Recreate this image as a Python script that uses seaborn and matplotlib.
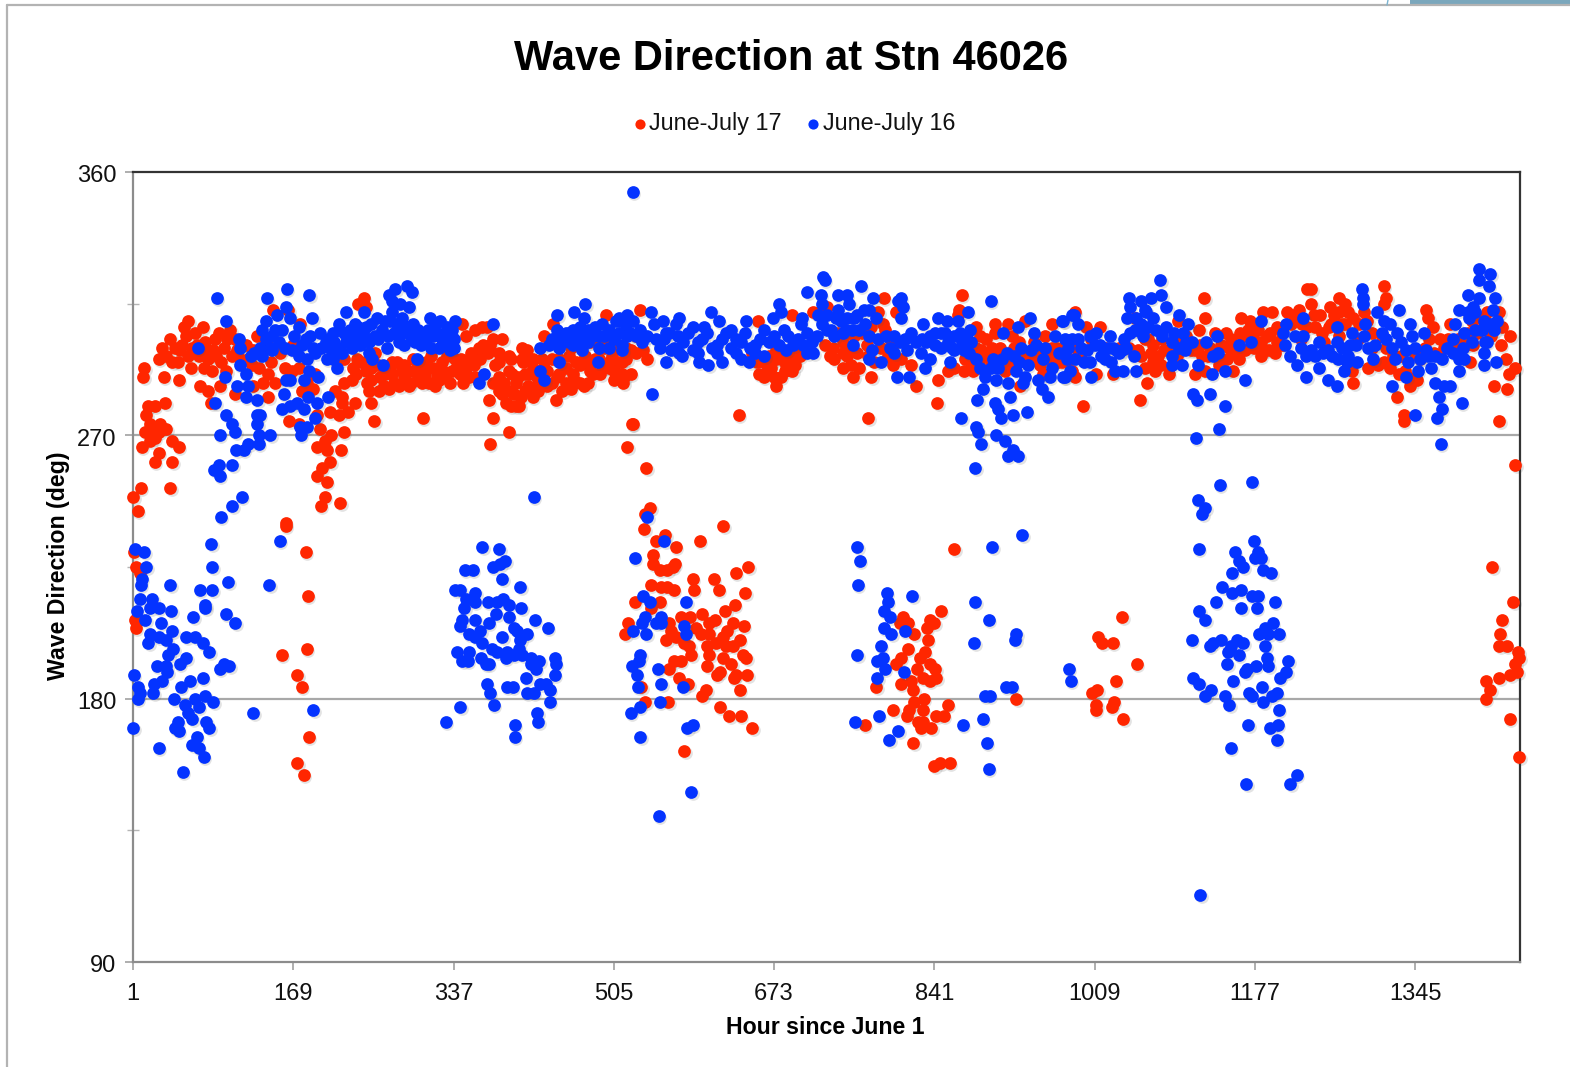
import matplotlib
matplotlib.use("Agg")
import matplotlib.pyplot as plt
import matplotlib.transforms as mtrans
from matplotlib.lines import Line2D
from matplotlib.patches import Rectangle
import pandas as pd
import seaborn as sns

# (hour, degrees) pairs, grouped by stretch of the record
red_start = [
    (1, 249), (6, 244), (9, 252), (40, 252), (24, 261), (42, 261), (10, 266), (28, 264), (49, 266), (42, 268),
    (14, 271), (20, 271), (28, 271), (36, 272), (19, 268), (29, 274), (15, 277), (17, 280), (24, 280), (35, 281),
    (19, 274), (24, 269), (12, 290), (13, 293), (33, 290), (2, 230), (4, 225), (8, 223), (3, 207), (4, 204),
    (161, 239), (182, 230), (184, 215), (183, 197), (157, 195), (173, 188), (178, 184), (185, 167), (173, 158), (180, 154),
]
red_band_1 = [
    (31, 300), (36, 297), (45, 300), (59, 309), (54, 307), (66, 305), (57, 304), (42, 295), (49, 289), (59, 297),
    (77, 302), (75, 293), (71, 287), (80, 285), (83, 281), (92, 287), (91, 305), (103, 306), (84, 292), (96, 300),
    (85, 299), (70, 297), (105, 297), (115, 301), (127, 299), (131, 304), (143, 291), (143, 283), (133, 293), (127, 287),
    (108, 284), (122, 296), (148, 313), (164, 313), (176, 308), (169, 301), (160, 293), (168, 292), (183, 288), (190, 286),
    (178, 285), (192, 291), (175, 293), (165, 275), (175, 274), (194, 277), (197, 272), (209, 270), (222, 271), (202, 268),
    (194, 266), (204, 265), (219, 265), (208, 261), (199, 259), (194, 256), (204, 254), (202, 249), (198, 246), (218, 247),
    (161, 240), (208, 278), (217, 277), (226, 278), (234, 281), (220, 281), (213, 285), (222, 288), (231, 289), (220, 283),
    (232, 293), (236, 296), (222, 296), (243, 317), (237, 315), (245, 314), (254, 275), (251, 281), (248, 285), (246, 288),
    (259, 285), (269, 286), (250, 293), (265, 291), (280, 287), (290, 287), (283, 292), (273, 295), (297, 292), (304, 288),
    (311, 288), (305, 276), (322, 289), (329, 291), (308, 295), (325, 295), (344, 291), (339, 296), (346, 308), (353, 296),
    (350, 304), (364, 300), (360, 306), (367, 307), (372, 307), (388, 303), (378, 303), (385, 298), (360, 290), (374, 282),
    (378, 276), (395, 271), (375, 267), (409, 300), (414, 299), (397, 296), (409, 296), (420, 296), (378, 288), (388, 284),
    (397, 280), (406, 280), (400, 284), (420, 283), (430, 296), (385, 290), (398, 291), (412, 291), (423, 287), (435, 287),
    (444, 282), (448, 296), (462, 291), (451, 285), (460, 286), (474, 287), (483, 291), (491, 291), (505, 289), (441, 308),
    (432, 304), (497, 311), (518, 296), (479, 295), (500, 295), (516, 290),
]
red_band_1_fill = [
    (50, 299), (63, 300), (75, 298), (88, 297), (100, 303), (110, 299), (240, 295), (255, 298), (270, 293), (285, 290),
    (295, 296), (300, 290), (315, 293), (330, 297), (345, 296), (355, 298), (260, 290), (275, 288), (290, 292), (305, 294),
    (320, 290), (335, 292), (350, 293), (365, 296), (375, 301), (385, 295), (390, 288), (395, 285), (405, 290), (415, 287),
    (425, 290), (435, 292), (445, 290), (455, 293), (465, 295), (470, 288), (480, 292), (490, 296), (500, 293), (510, 290),
    (395, 292), (410, 295), (420, 293), (440, 296), (455, 288), (475, 297), (495, 300), (505, 300), (412, 285), (402, 280),
    (392, 281), (28, 296), (40, 303), (48, 295), (52, 301), (62, 293), (68, 301), (74, 307), (80, 296), (87, 303),
    (93, 295), (99, 292), (108, 303), (113, 296), (119, 301), (126, 294), (135, 298), (140, 302), (146, 295), (155, 298),
    (150, 288), (137, 288), (235, 291), (245, 292), (250, 289), (258, 294), (264, 287), (272, 291), (278, 295), (285, 294),
    (292, 288), (300, 294), (307, 291), (313, 297), (318, 287), (326, 292), (333, 288), (340, 293), (347, 288), (353, 290),
    (358, 294), (368, 301), (373, 298), (380, 294), (385, 285), (395, 297), (403, 288), (408, 283), (416, 291), (426, 285),
    (432, 293), (440, 288), (448, 291), (458, 297), (463, 289), (470, 294), (478, 288), (485, 296), (493, 293), (503, 297),
    (512, 295), (518, 300), (470, 302), (460, 300), (480, 302), (490, 303), (500, 302), (505, 292), (515, 288), (512, 290),
]
red_cluster_2 = [
    (524, 274), (519, 266), (539, 259), (543, 245), (538, 243), (537, 238), (549, 234), (559, 236), (570, 232), (595, 234),
    (620, 239), (546, 229), (546, 226), (553, 224), (561, 224), (569, 226), (567, 225), (646, 225), (633, 223), (588, 221),
    (610, 221), (544, 219), (554, 218), (561, 218), (568, 217), (589, 217), (615, 217), (643, 216), (527, 213), (553, 213),
    (544, 211), (632, 212), (622, 210), (520, 206), (517, 202), (563, 206), (575, 208), (585, 208), (597, 209), (611, 207),
    (605, 206), (630, 206), (641, 205), (565, 203), (570, 201), (560, 200), (579, 199), (591, 204), (596, 202), (605, 202),
    (624, 203), (619, 201), (637, 200), (612, 199), (623, 198), (630, 198), (584, 198), (603, 198), (586, 195), (605, 195),
    (619, 194), (640, 195), (644, 194), (568, 193), (575, 193), (603, 191), (628, 192), (563, 190), (616, 189), (613, 188),
    (633, 188), (645, 188), (631, 187), (573, 187), (583, 185), (534, 184), (637, 183), (602, 183), (598, 181), (538, 179),
    (562, 179), (616, 177), (626, 174), (638, 174), (650, 170), (579, 162),
]
red_cluster_3 = [
    (862, 231), (848, 210), (808, 208), (836, 207), (805, 206), (813, 206), (841, 206), (833, 204), (820, 202), (834, 200),
    (813, 197), (831, 196), (806, 194), (826, 194), (801, 192), (837, 192), (842, 190), (823, 190), (829, 187), (843, 187),
    (836, 186), (817, 186), (806, 185), (780, 184), (819, 183), (820, 179), (830, 180), (855, 178), (798, 176), (815, 176),
    (829, 176), (812, 174), (843, 174), (851, 174), (824, 172), (829, 172), (827, 170), (838, 170), (768, 171), (819, 165),
    (841, 157), (847, 158), (857, 158),
]
red_band_2 = [
    (532, 313), (528, 304), (523, 299), (536, 299), (514, 295), (523, 291), (514, 291), (525, 274), (636, 277), (772, 276),
    (844, 281), (675, 287), (657, 291), (666, 292), (684, 292), (692, 292), (663, 295), (675, 296), (691, 295), (696, 297),
    (656, 309), (692, 311), (714, 312), (729, 314), (726, 301), (736, 296), (754, 294), (745, 298), (747, 305), (757, 304),
    (756, 290), (775, 290), (771, 297), (788, 317), (801, 312), (782, 312), (787, 308), (789, 306), (798, 294), (806, 296),
    (817, 294), (822, 287), (845, 289), (870, 318), (867, 313), (866, 311), (855, 292), (862, 293), (873, 296), (885, 307),
    (889, 304), (890, 299), (883, 296), (901, 300), (905, 308), (918, 308), (905, 305), (931, 287), (927, 297), (946, 296),
    (936, 309), (957, 304), (964, 308), (971, 295), (955, 291), (922, 304), (946, 302), (964, 300), (540, 296), (528, 298),
    (660, 296), (670, 293), (680, 296), (690, 298), (700, 297), (650, 298), (675, 299), (735, 300), (745, 302), (755, 300),
    (745, 293), (760, 298), (765, 305), (775, 307), (785, 300), (795, 303), (870, 300), (880, 295), (885, 300), (895, 303),
    (900, 295), (910, 300), (915, 292), (925, 300), (935, 298), (950, 298), (960, 296), (970, 300), (980, 300), (985, 292),
    (995, 298), (655, 295), (662, 290), (668, 297), (673, 290), (680, 290), (686, 294), (695, 294), (702, 300), (732, 297),
    (740, 305), (750, 297), (762, 293), (770, 301), (778, 295), (792, 297), (797, 300), (872, 292), (882, 292), (888, 294),
    (893, 297), (905, 298), (912, 296), (920, 294), (930, 302), (940, 297), (952, 294), (958, 300), (965, 296), (975, 295),
    (982, 296), (990, 300),
]
red_band_3 = [
    (1015, 307), (988, 312), (1000, 307), (997, 280), (1057, 282), (1124, 317), (1125, 310), (1064, 288), (1062, 293), (1070, 301),
    (1076, 297), (1079, 294), (1087, 291), (1114, 291), (1058, 297), (1051, 310), (1097, 309), (1119, 306), (1114, 299), (1125, 292),
    (1139, 294), (1154, 292), (1147, 305), (1161, 305), (1142, 301), (1163, 310), (1172, 309), (1186, 312), (1195, 312), (1184, 302),
    (1198, 298), (1193, 305), (1167, 299), (1160, 296), (1176, 300), (1188, 299), (1211, 312), (1223, 313), (1236, 320), (1232, 320),
    (1236, 315), (1239, 311), (1226, 308), (1247, 305), (1256, 314), (1265, 317), (1272, 315), (1275, 312), (1265, 312), (1257, 308),
    (1272, 308), (1291, 312), (1286, 308), (1312, 321), (1315, 317), (1312, 315), (1279, 292), (1280, 288), (1296, 293), (1306, 294),
    (1312, 295), (1319, 293), (1326, 283), (1333, 277), (1333, 275), (1328, 291), (1340, 287), (1347, 289), (1334, 292), (1356, 313),
    (1359, 310), (1364, 307), (1371, 303), (1382, 308), (1398, 301), (1406, 301), (1403, 295), (1412, 310), (1420, 312), (1433, 312),
    (1436, 307), (1445, 304), (1440, 296), (1450, 293), (1443, 291), (1428, 287), (1441, 286), (1433, 275), (1450, 260), (1429, 308),
    (988, 290), (1028, 291), (1011, 291), (1005, 303), (1020, 300), (1035, 300), (1045, 300), (1055, 299), (1065, 303), (1070, 295),
    (1082, 299), (1090, 300), (1100, 303), (1110, 299), (1120, 301), (1130, 300), (1142, 296), (1150, 300), (1155, 298), (1165, 304),
    (1175, 303), (1180, 306), (1190, 304), (1200, 302), (1205, 305), (1215, 308), (1225, 303), (1240, 307), (1255, 307), (1265, 304),
    (1285, 303), (1300, 300), (1315, 300), (1330, 297), (1345, 298), (1355, 300), (1365, 298), (1380, 303), (1390, 303), (1400, 305),
    (1410, 305), (1420, 306), (1062, 303), (1068, 298), (1072, 292), (1080, 303), (1095, 297), (1105, 304), (1122, 297), (1128, 297),
    (1135, 305), (1148, 296), (1152, 303), (1158, 300), (1170, 306), (1178, 308), (1183, 297), (1192, 299), (1200, 307), (1206, 301),
    (1218, 311), (1232, 307), (1245, 311), (1250, 302), (1260, 311), (1268, 308), (1280, 310), (1295, 309), (1300, 305), (1310, 304),
    (1322, 297), (1338, 290), (1350, 296), (1360, 303), (1375, 300), (1385, 300), (1393, 300), (1405, 309), (1418, 309), (1425, 304),
    (1435, 301),
]
red_low_late = [
    (1038, 208), (1013, 201), (1017, 199), (1028, 199), (1053, 192), (1031, 186), (1012, 183), (1006, 182), (1011, 178), (1010, 176),
    (1029, 179), (1027, 177), (1039, 173), (927, 180), (1426, 225), (1448, 213), (1436, 207), (1434, 202), (1433, 198), (1441, 198),
    (1453, 196), (1454, 194), (1450, 192), (1452, 189), (1445, 188), (1433, 187), (1419, 186), (1424, 183), (1419, 180), (1444, 173),
    (1454, 160),
]

blue_cluster_1 = [
    (3, 231), (13, 230), (15, 225), (10, 221), (9, 219), (8, 214), (21, 214), (5, 210), (14, 207), (19, 211),
    (28, 211), (41, 210), (40, 219), (71, 217), (84, 217), (84, 225), (83, 233), (101, 220), (77, 212), (77, 211),
    (64, 208), (98, 209), (108, 206), (30, 206), (42, 203), (19, 202), (17, 199), (28, 201), (36, 200), (57, 201),
    (66, 201), (74, 199), (81, 196), (43, 197), (38, 195), (57, 194), (50, 192), (26, 191), (36, 191), (37, 189),
    (31, 186), (23, 185), (22, 182), (2, 188), (6, 184), (8, 182), (6, 180), (96, 192), (92, 190), (102, 191),
    (74, 187), (61, 186), (51, 184), (44, 180), (77, 181), (66, 180), (85, 179), (56, 178), (70, 177), (59, 175),
    (63, 173), (48, 172), (78, 172), (81, 170), (45, 170), (49, 169), (68, 167), (1, 170), (28, 163), (63, 164),
    (70, 163), (75, 160), (53, 155), (127, 175), (190, 176), (144, 219), (155, 234),
]
blue_cluster_2 = [
    (367, 232), (385, 231), (349, 224), (357, 224), (378, 225), (386, 226), (391, 227), (388, 221), (407, 218), (339, 217),
    (344, 217), (360, 216), (350, 214), (359, 213), (373, 213), (383, 213), (389, 214), (395, 212), (408, 211), (348, 211),
    (382, 209), (422, 207), (436, 204), (395, 208), (346, 207), (360, 207), (374, 206), (344, 205), (400, 204), (404, 203),
    (414, 202), (353, 202), (365, 203), (388, 201), (360, 201), (367, 199), (407, 200), (406, 197), (341, 196), (353, 196),
    (377, 197), (383, 196), (393, 196), (392, 194), (400, 195), (409, 195), (418, 194), (427, 193), (443, 194), (444, 192),
    (346, 193), (352, 193), (366, 194), (371, 192), (374, 192), (418, 192), (423, 190), (413, 187), (443, 188), (372, 185),
    (375, 182), (393, 184), (399, 184), (428, 185), (434, 185), (438, 183), (414, 182), (421, 182), (379, 178), (438, 179),
    (344, 177), (329, 172), (425, 175), (426, 172), (401, 171), (401, 167),
]
blue_rise_1 = [
    (89, 317), (98, 309), (69, 300), (97, 290), (87, 281), (113, 294), (112, 303), (119, 291), (110, 287), (122, 287),
    (131, 282), (119, 283), (99, 277), (105, 274), (108, 271), (92, 270), (133, 270), (145, 270), (131, 277), (134, 277),
    (131, 274), (133, 267), (122, 267), (117, 265), (109, 265), (105, 260), (91, 260), (86, 258), (92, 256), (115, 249),
    (105, 246), (93, 242), (421, 249), (141, 317), (162, 320), (186, 318), (161, 314), (152, 311), (166, 310), (175, 307),
    (189, 310), (140, 309), (136, 306), (147, 304), (154, 302), (147, 299), (168, 299), (175, 297), (183, 296), (182, 303),
    (187, 304), (197, 305), (203, 302), (192, 298), (204, 296), (211, 296), (215, 293), (185, 292), (195, 290), (180, 289),
    (166, 289), (161, 289), (159, 284), (184, 283), (205, 283), (194, 281), (173, 281), (157, 279), (166, 280), (180, 279),
    (192, 276), (183, 273), (176, 273), (177, 270), (125, 297), (113, 300), (134, 300), (136, 297),
]
blue_band_1 = [
    (224, 312), (217, 308), (211, 305), (222, 305), (234, 308), (243, 312), (245, 307), (257, 310), (238, 304), (224, 302),
    (231, 300), (239, 301), (255, 304), (267, 300), (248, 298), (252, 296), (263, 294), (269, 318), (276, 320), (288, 321),
    (293, 319), (272, 316), (290, 314), (281, 315), (272, 312), (283, 310), (265, 309), (283, 305), (295, 308), (312, 310),
    (323, 309), (339, 309), (304, 305), (320, 305), (330, 307), (297, 302), (308, 303), (337, 303), (325, 303), (313, 300),
    (337, 300), (299, 296), (378, 308), (369, 291), (364, 288), (428, 300), (437, 301), (448, 304), (446, 311), (463, 312),
    (475, 315), (448, 295), (428, 292), (432, 289), (488, 295), (474, 310), (455, 305), (469, 304), (483, 304), (493, 308),
    (511, 310), (472, 299), (490, 300), (500, 306), (514, 299), (511, 305), (462, 301), (448, 300),
    (128, 298), (140, 303), (145, 300), (150, 306), (157, 306), (160, 300), (170, 304), (178, 301), (190, 300), (198, 300),
    (208, 300), (215, 300), (220, 298), (228, 306), (233, 303), (243, 304), (250, 308), (258, 303), (262, 306), (275, 305),
    (285, 301), (292, 304), (300, 306), (303, 301), (315, 304), (322, 300), (330, 302), (335, 306), (278, 308), (288, 307),
    (270, 309), (440, 303), (452, 302), (458, 302), (465, 302), (470, 307), (478, 302), (485, 307), (495, 304), (505, 303),
    (507, 309), (518, 308), (528, 304), (532, 306), (478, 306), (490, 304), (462, 306), (205, 303), (212, 302), (237, 307),
    (248, 302), (268, 304), (280, 302), (295, 303), (310, 306), (318, 308), (328, 305), (333, 299), (445, 306), (458, 305),
    (475, 303), (500, 300), (522, 305), (535, 302),
]
blue_band_2 = [
    (519, 311), (512, 309), (525, 309), (519, 304), (514, 301), (540, 304), (549, 303), (544, 312), (547, 308), (557, 309),
    (573, 310), (560, 305), (570, 308), (588, 307), (600, 307), (607, 312), (615, 309), (644, 309), (560, 295), (577, 297),
    (594, 295), (604, 294), (618, 295), (638, 296), (647, 295), (565, 299), (663, 297), (672, 310), (680, 312), (678, 315),
    (686, 299), (708, 298), (714, 298), (702, 310), (701, 308), (719, 311), (724, 324), (726, 323), (722, 318), (708, 319),
    (740, 318), (749, 318), (752, 315), (764, 321), (723, 315), (777, 317), (806, 317), (808, 314), (803, 316), (806, 310),
    (767, 313), (773, 313), (780, 310), (729, 311), (740, 313), (750, 310), (733, 306), (736, 304), (743, 309), (757, 310),
    (768, 308), (773, 304), (782, 303), (756, 301), (776, 299), (773, 296), (785, 295), (829, 308), (845, 310), (854, 309),
    (866, 309), (876, 312), (900, 316), (799, 304), (817, 305), (805, 302), (799, 298), (812, 299), (822, 302), (836, 304),
    (848, 305), (862, 304), (878, 306), (827, 298), (836, 296), (831, 293), (857, 295), (862, 299), (877, 298), (880, 302),
    (848, 300), (802, 290), (815, 290), (889, 293), (894, 290), (908, 293), (906, 289), (903, 296), (917, 298), (913, 305),
    (892, 286), (886, 282), (920, 283), (905, 281), (908, 279), (911, 276), (924, 277), (938, 278), (869, 276), (885, 273),
    (887, 271), (890, 267), (906, 270), (915, 268), (923, 265), (918, 263), (929, 263), (884, 259), (545, 284), (929, 307),
    (941, 310), (945, 305), (932, 300), (927, 292), (939, 294), (936, 290), (934, 288), (950, 289), (954, 286), (960, 283),
    (918, 288), (957, 300), (968, 304), (975, 309), (985, 311), (964, 293), (962, 290), (978, 290),
]
blue_band_2_fill = [
    (558, 303), (568, 300), (578, 302), (588, 299), (598, 303), (608, 300), (618, 303), (628, 300), (638, 302), (648, 300),
    (658, 303), (668, 302), (678, 301), (688, 304), (698, 303), (708, 305), (563, 305), (583, 305), (603, 305), (623, 305),
    (643, 305), (663, 306), (683, 306), (573, 298), (593, 298), (613, 298), (633, 298), (653, 298), (628, 306), (718, 304),
    (728, 306), (745, 305), (755, 306), (790, 304), (795, 300), (810, 303), (828, 303), (832, 302), (842, 301), (855, 302),
    (860, 300), (870, 302), (875, 303), (885, 296), (900, 293), (912, 296), (925, 297), (930, 295), (942, 299), (948, 301),
    (955, 296), (972, 298), (980, 296), (553, 300), (572, 304), (593, 302), (613, 301), (633, 303), (653, 301), (673, 304),
    (693, 301), (703, 301), (713, 302), (723, 308), (738, 310), (748, 306), (762, 306), (760, 311), (842, 305), (852, 305),
    (868, 305), (872, 299),
]
blue_cluster_3 = [
    (540, 242), (558, 234), (527, 228), (536, 215), (543, 213), (581, 213), (538, 208), (535, 206), (554, 208), (549, 206),
    (554, 206), (525, 203), (539, 202), (579, 205), (581, 202), (533, 195), (531, 193), (524, 191), (529, 188), (530, 184),
    (551, 190), (555, 185), (578, 184), (553, 179), (532, 177), (523, 175), (588, 171), (582, 170), (533, 167), (586, 148),
    (552, 140), (760, 232), (763, 227), (761, 219), (791, 216), (792, 213), (818, 215), (788, 210), (795, 208), (788, 204),
    (796, 202), (810, 203), (785, 198), (760, 195), (787, 194), (781, 193), (789, 190), (809, 189), (781, 187), (884, 213),
    (898, 207), (883, 199), (902, 232), (899, 181), (894, 181), (892, 173), (871, 171), (783, 174), (758, 172), (803, 169),
    (794, 166), (896, 165), (898, 156), (933, 236), (927, 202), (926, 200), (982, 190), (984, 186), (916, 184), (922, 184),
]
blue_cluster_4 = [
    (1140, 253), (1174, 254), (1117, 248), (1125, 245), (1122, 243), (1118, 231), (1176, 234), (1156, 230), (1180, 230), (1177, 228),
    (1184, 228), (1160, 227), (1165, 225), (1153, 223), (1186, 224), (1194, 223), (1143, 218), (1153, 216), (1162, 217), (1174, 215),
    (1180, 215), (1136, 213), (1119, 210), (1125, 207), (1163, 211), (1179, 211), (1198, 213), (1196, 206), (1188, 204), (1181, 202),
    (1191, 202), (1202, 202), (1111, 200), (1130, 198), (1133, 199), (1142, 200), (1158, 200), (1165, 199), (1188, 198), (1149, 196),
    (1152, 198), (1160, 195), (1190, 194), (1212, 193), (1148, 192), (1178, 191), (1191, 191), (1169, 190), (1167, 189), (1210, 189),
    (1203, 187), (1112, 187), (1119, 185), (1154, 186), (1185, 184), (1131, 183), (1125, 181), (1146, 181), (1171, 182), (1174, 181),
    (1200, 182), (1195, 181), (1150, 178), (1186, 179), (1202, 176), (1170, 171), (1193, 170), (1201, 171), (1200, 166), (1152, 163),
    (1168, 151), (1214, 151), (1221, 154), (1120, 113),
]
blue_band_3 = [
    (1078, 323), (1079, 318), (1045, 317), (1058, 316), (1068, 317), (1046, 314), (1043, 310), (1084, 314), (1063, 312), (987, 311),
    (976, 309), (992, 308), (1098, 311), (1058, 308), (1084, 307), (1107, 308), (1051, 306), (1065, 307), (1004, 304), (1025, 304),
    (1102, 305), (978, 303), (992, 303), (1040, 303), (1137, 304), (1126, 302), (1090, 302), (1111, 302), (1009, 301), (1023, 300),
    (1160, 301), (1173, 302), (1184, 309), (981, 300), (1001, 299), (1032, 299), (1104, 299), (1090, 297), (1050, 297), (1138, 298),
    (1133, 297), (1016, 297), (988, 296), (1004, 295), (1026, 295), (1090, 294), (1101, 294), (1117, 294), (983, 292), (976, 290),
    (1005, 290), (1030, 292), (1039, 292), (1052, 292), (1132, 291), (1146, 292), (1167, 289), (1112, 284), (1116, 282), (1130, 284),
    (1146, 280), (1139, 272), (1115, 269), (985, 303), (995, 300), (1010, 305), (1015, 301), (1028, 300), (1035, 298), (998, 295),
    (1020, 296), (1038, 299), (1042, 300), (1055, 306), (1060, 304), (1070, 310), (1073, 306), (1080, 304), (1092, 305), (1098, 300),
    (1105, 302), (1046, 305), (1052, 310), (1062, 313),
]
blue_band_4 = [
    (1210, 308), (1207, 305), (1209, 301), (1228, 310), (1219, 304), (1228, 304), (1214, 297), (1221, 294), (1244, 302), (1231, 297),
    (1240, 297), (1254, 299), (1263, 307), (1263, 302), (1279, 305), (1277, 301), (1291, 304), (1231, 290), (1244, 293), (1254, 289),
    (1263, 287), (1270, 292), (1284, 295), (1264, 296), (1275, 297), (1301, 296), (1303, 301), (1293, 308), (1289, 320), (1290, 317),
    (1290, 315), (1305, 312), (1312, 309), (1319, 308), (1328, 313), (1340, 308), (1326, 305), (1342, 304), (1354, 305), (1321, 300),
    (1324, 296), (1336, 299), (1338, 295), (1348, 292), (1359, 297), (1362, 293), (1373, 296), (1336, 290), (1321, 287), (1366, 288),
    (1375, 287), (1382, 287), (1391, 292), (1391, 296), (1396, 296), (1370, 283), (1373, 279), (1368, 276), (1345, 277), (1394, 281),
    (1372, 267), (1385, 303), (1387, 308), (1391, 313), (1396, 305), (1408, 306), (1401, 318), (1412, 317), (1408, 312), (1412, 327),
    (1412, 323), (1424, 325), (1422, 321), (1429, 317), (1427, 313), (1417, 309), (1431, 309), (1420, 302), (1417, 298), (1417, 294),
    (1430, 295), (1225, 300), (1236, 299), (1248, 298), (1258, 297), (1268, 300), (1274, 295), (1283, 301), (1296, 300), (1310, 305),
    (1315, 303), (1330, 302), (1345, 300), (1350, 296), (1356, 299), (1366, 297), (1378, 300), (1385, 298), (1395, 300), (1402, 310),
    (1405, 302), (1415, 306), (1418, 302), (1425, 308), (1428, 306), (1400, 312), (1406, 314),
]
blue_outlier = [(525, 353)]

x_ticks = [1, 169, 337, 505, 673, 841, 1009, 1177, 1345]
y_ticks = [90, 180, 270, 360]
y_minor = [135, 225, 315]

RED, BLUE = "#ff2600", "#0433ff"

red = pd.DataFrame(red_start + red_band_1 + red_band_1_fill + red_cluster_2 + red_cluster_3
                   + red_band_2 + red_band_3 + red_low_late, columns=["hour", "deg"])
blue = pd.DataFrame(blue_cluster_1 + blue_cluster_2 + blue_rise_1 + blue_band_1 + blue_band_2
                    + blue_band_2_fill + blue_cluster_3 + blue_cluster_4 + blue_band_3 + blue_band_4
                    + blue_outlier, columns=["hour", "deg"])

sns.set_theme(style="white")
plt.rcParams["font.family"] = ["Liberation Sans", "DejaVu Sans"]

W, H = 1570, 1067
fig = plt.figure(figsize=(W / 100, H / 100), dpi=100)
ax = fig.add_axes([133 / W, (H - 962) / H, 1387 / W, 790 / H])

# soft drop shadow sitting just under the dots
shadow = mtrans.offset_copy(ax.transData, fig=fig, x=1.5, y=-2, units="dots")

for df, col, lab, z in [(red, RED, "June-July 17", 3), (blue, BLUE, "June-July 16", 5)]:
    sns.scatterplot(data=df, x="hour", y="deg", ax=ax, s=84, color="#555555", alpha=0.16, linewidth=0,
                    transform=shadow, zorder=z - 1, clip_on=False)
    sns.scatterplot(data=df, x="hour", y="deg", ax=ax, s=84, color=col, linewidth=0,
                    zorder=z, clip_on=False, label=lab)

ax.set_xlim(1, 1455)
ax.set_ylim(90, 360)
ax.set_xticks(x_ticks)
ax.set_yticks(y_ticks)
ax.set_yticks(y_minor, minor=True)
ax.tick_params(axis="both", which="major", labelsize=17, length=6, width=1.3, color="#a8a8a8",
               labelcolor="#111111", direction="out", pad=6, bottom=True, left=True)
ax.tick_params(axis="y", which="minor", length=9, width=1, color="#b5b5b5", direction="inout", left=True)
ax.tick_params(axis="x", pad=9)
for tick_label in ax.get_yticklabels():
    tick_label.set_transform(tick_label.get_transform()
                             + mtrans.ScaledTranslation(0, -2 / 100, fig.dpi_scale_trans))

for y in [180, 270]:
    ax.axhline(y, color="#a8a8a8", lw=1.6, zorder=1)

ax.spines["left"].set_color("#8c8c8c")
ax.spines["bottom"].set_color("#8c8c8c")
ax.spines["top"].set_color("#333333")
ax.spines["right"].set_color("#333333")
for sp in ax.spines.values():
    sp.set_linewidth(1.6)
    sp.set_visible(True)

ax.set_xlabel("Hour since June 1", fontsize=16.7, fontweight="bold", color="black")
ax.set_ylabel("Wave Direction (deg)", fontsize=16.7, fontweight="bold", color="black")
ax.xaxis.set_label_coords((825 - 133) / 1387, (962 - 1027) / 790, transform=ax.transAxes)
ax.xaxis.label.set_va("center")
ax.yaxis.set_label_coords((58 - 133) / 1387, (962 - 566) / 790, transform=ax.transAxes)
ax.yaxis.label.set_va("center")

fig.text(791 / W, 1 - 59 / H, "Wave Direction at Stn 46026", fontsize=30, fontweight="bold",
         ha="center", va="center", color="black")

leg = ax.legend(loc="center", bbox_to_anchor=(794 / W, 1 - 123.5 / H), bbox_transform=fig.transFigure, ncol=2,
                frameon=False, fontsize=16.8, handlelength=0.6, handletextpad=0.1, columnspacing=1.05,
                markerscale=0.8, borderpad=0)
for t in leg.get_texts():
    t.set_color("#111111")

# slide frame and the bit of window chrome in the top right corner
fig.add_artist(Line2D([7 / W, 7 / W], [0, 1 - 5 / H], color="#b3b3b3", lw=1.6))
fig.add_artist(Line2D([7 / W, 1], [1 - 5 / H, 1 - 5 / H], color="#b3b3b3", lw=1.6))
fig.add_artist(Rectangle((1410 / W, 1 - 4 / H), 160 / W, 4 / H, transform=fig.transFigure, color="#7ba7bc", lw=0))
fig.add_artist(Line2D([1387 / W, 1388 / W], [1 - 5 / H, 1], color="#7bb3d0", lw=1))

fig.savefig("out.png", dpi=100)
